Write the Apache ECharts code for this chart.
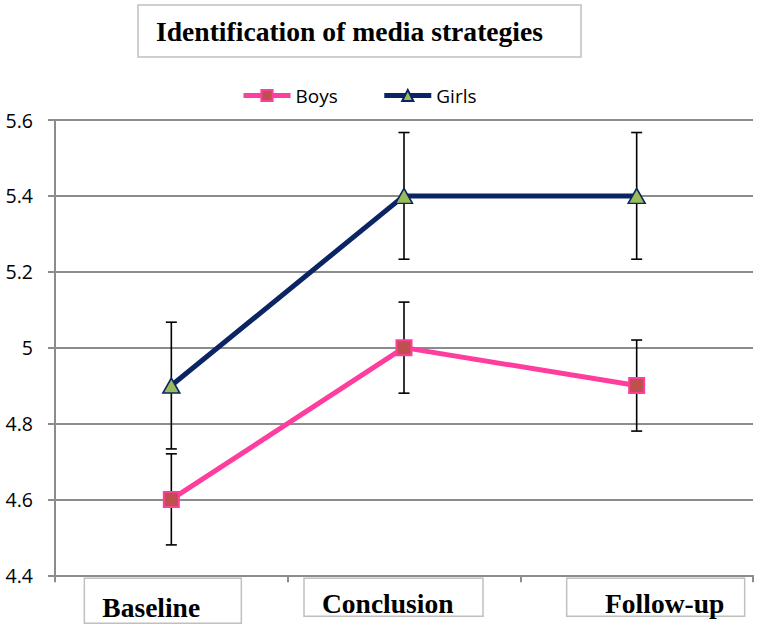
<!DOCTYPE html>
<html>
<head>
<meta charset="utf-8">
<script src="https://cdn.jsdelivr.net/npm/echarts@6/dist/echarts.min.js"></script>
<style>html,body{margin:0;padding:0;background:#fff}#c{width:759px;height:624px}</style>
</head>
<body>
<div id="c"></div>
<script>
const categories = ['Baseline', 'Conclusion', 'Follow-up'];
const boys = [4.6, 5.0, 4.9];
const girls = [4.9, 5.4, 5.4];
const boysErr = [0.12, 0.12, 0.12];
const girlsErr = [0.167, 0.167, 0.167];
const yTicks = { min: 4.4, max: 5.6, interval: 0.2 };

const chart = echarts.init(document.getElementById('c'), null, { renderer: 'svg' });

function errData(vals, errs) {
  return vals.map((v, i) => [i, v - errs[i], v + errs[i]]);
}
function renderErr(params, api) {
  const x = api.value(0);
  const lo = api.coord([x, api.value(1)]);
  const hi = api.coord([x, api.value(2)]);
  const cap = 5.5;
  const st = { stroke: '#000', lineWidth: 1.6 };
  return {
    type: 'group',
    children: [
      { type: 'line', shape: { x1: hi[0], y1: hi[1], x2: lo[0], y2: lo[1] }, style: st },
      { type: 'line', shape: { x1: hi[0] - cap, y1: hi[1], x2: hi[0] + cap, y2: hi[1] }, style: st },
      { type: 'line', shape: { x1: lo[0] - cap, y1: lo[1], x2: lo[0] + cap, y2: lo[1] }, style: st }
    ]
  };
}

const boxBase = {
  fontFamily: 'Liberation Serif', fontWeight: 'bold', fontSize: 27.5, color: '#000',
  borderColor: '#c0c0c0', borderWidth: 1.5, align: 'left', padding: [13, 0, 0, 18]
};

const option = {
  animation: false,
  title: {
    text: 'Identification of media strategies',
    left: 138, top: 5,
    padding: [12, 38, 12, 18],
    borderColor: '#c0c0c0', borderWidth: 1.5,
    textStyle: { fontFamily: 'Liberation Serif', fontWeight: 'bold', fontSize: 27.6, color: '#000' }
  },
  legend: {
    left: 236, top: 81,
    itemWidth: 47, itemHeight: 14, itemGap: 44,
    textStyle: { fontFamily: 'Open Sans', fontSize: 19, color: '#000' },
    lineStyle: { width: 5 },
    data: ['Boys', 'Girls']
  },
  grid: { left: 55, right: 6, top: 120, bottom: 47, containLabel: false },
  xAxis: {
    type: 'category',
    data: categories,
    boundaryGap: true,
    axisLine: { lineStyle: { color: '#8c8c8c', width: 2 } },
    axisTick: { show: true, length: 7, lineStyle: { color: '#8c8c8c', width: 2 } },
    axisLabel: {
      interval: 0, margin: 3,
      formatter: function (v, i) {
        if (i === 0) return '{b0|' + v + '}{s0|}';
        if (i === 1) return '{b1|' + v + '}{s1|}';
        return '{s2|}{b2|' + v + '}';
      },
      rich: {
        b0: Object.assign({}, boxBase, { width: 139, height: 32 }),
        b1: Object.assign({}, boxBase, { width: 161, height: 25 }),
        b2: Object.assign({}, boxBase, { width: 160, height: 25 }),
        s0: { width: 17 },
        s1: { width: 21 },
        s2: { width: 38 }
      }
    }
  },
  yAxis: {
    type: 'value',
    min: yTicks.min, max: yTicks.max, interval: yTicks.interval,
    axisLine: { show: true, lineStyle: { color: '#8c8c8c', width: 2 } },
    axisTick: { show: true, length: 7, lineStyle: { color: '#8c8c8c', width: 2 } },
    splitLine: { show: true, lineStyle: { color: '#8c8c8c', width: 2 } },
    axisLabel: { margin: 22, fontFamily: 'Open Sans', fontSize: 19.5, color: '#000' }
  },
  series: [
    {
      name: 'Boys', type: 'line', data: boys, z: 3,
      lineStyle: { color: '#ff3d9e', width: 5 },
      itemStyle: { color: '#c0504d', borderColor: '#ff3d9e', borderWidth: 2 },
      symbol: 'rect', symbolSize: 15
    },
    {
      name: 'Girls', type: 'line', data: girls, z: 3,
      lineStyle: { color: '#0b2463', width: 5 },
      itemStyle: { color: '#9bbb59', borderColor: '#0b2463', borderWidth: 1.5 },
      symbol: 'triangle', symbolSize: [17, 15]
    },
    {
      name: 'BoysErr', type: 'custom', data: errData(boys, boysErr), renderItem: renderErr, z: 2,
      encode: { x: 0, y: [1, 2] }, silent: true
    },
    {
      name: 'GirlsErr', type: 'custom', data: errData(girls, girlsErr), renderItem: renderErr, z: 2,
      encode: { x: 0, y: [1, 2] }, silent: true
    }
  ]
};
chart.setOption(option);
</script>
</body>
</html>
